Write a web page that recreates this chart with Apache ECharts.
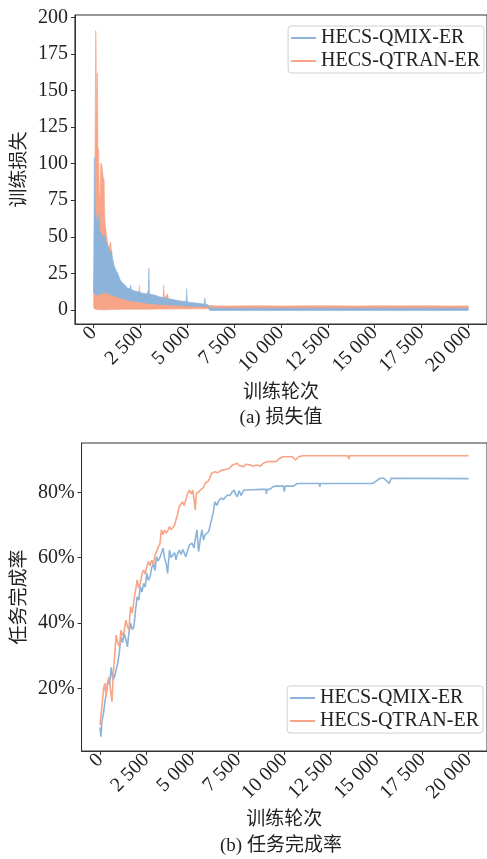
<!DOCTYPE html>
<html>
<head>
<meta charset="utf-8">
<script src="https://cdn.jsdelivr.net/npm/echarts@6/dist/echarts.min.js"></script>
<style>
  body { margin: 0; background: #fff; }
  #chart { width: 487px; height: 859px; }
</style>
</head>
<body>
<div id="chart"></div>
<script>
const FONT = "'Liberation Serif', 'Noto Sans CJK SC', serif";
const CJK = "'Noto Sans CJK SC', sans-serif";
const BLUE = "#8cb3d9";
const ORANGE = "#f8a486";

const seriesNames = ["HECS-QMIX-ER", "HECS-QTRAN-ER"];
const epochTicks = [0, 2500, 5000, 7500, 10000, 12500, 15000, 17500, 20000];
const lossTicks = [0, 25, 50, 75, 100, 125, 150, 175, 200];
const rateTicks = [20, 40, 60, 80];

// (a) loss - dense noisy curves read as lower / upper envelopes
const qtranLossEp = [0, 40, 80, 110, 130, 150, 180, 200, 230, 270, 300, 340, 380, 430, 470, 520, 560, 600, 650, 700, 760, 820, 880, 920, 960, 1000, 1060, 1120, 1160, 1200, 1300, 1400, 1500, 1650, 1800, 1950, 2100, 2300, 2420, 2450, 2480, 2650, 2800, 2900, 2950, 3200, 3500, 3700, 3740, 3780, 3950, 4000, 4500, 5000, 5500, 6000, 6500, 7000, 8000, 9000, 10000, 11000, 12000, 13000, 14000, 15000, 16000, 17000, 18000, 19000, 20000];
const qtranLossHigh = [17, 30, 120, 191, 185, 120, 162, 162, 110, 110, 80, 75, 100, 100, 95, 90, 89, 60, 55, 50, 45, 40, 46, 46, 32, 30, 25, 28, 28, 20, 17, 15, 14, 12, 13, 11, 12, 10, 11, 16.5, 10, 9, 8.5, 13, 8, 7, 7, 8, 17, 8, 11, 6, 5, 4.5, 3.5, 3.2, 2.8, 2.7, 2.8, 2.9, 2.7, 2.8, 2.9, 2.8, 2.7, 2.9, 2.8, 2.8, 2.9, 2.7, 2.8];
const qtranLossLow = [1.5, 0.8, 0.5, 0.5, 0.4, 0.4, 0.3, 0.3, 0.3, 0.2, 0.2, 0.2, 0.2, 0.1, 0.1, 0.1, 0.1, 0.1, 0.1, 0.2, 0.2, 0.2, 0.3, 0.3, 0.3, 0.3, 0.3, 0.3, 0.3, 0.3, 0.3, 0.4, 0.4, 0.4, 0.4, 0.4, 0.4, 0.5, 0.5, 0.5, 0.5, 0.5, 0.5, 0.5, 0.5, 0.5, 0.6, 0.6, 0.6, 0.6, 0.6, 0.6, 0.7, 0.7, 0.8, 0.8, 0.9, 0.9, 0.9, 0.9, 0.9, 0.9, 0.9, 0.9, 0.9, 0.9, 0.9, 0.9, 0.9, 0.9, 0.9];

const qmixLossEp = [0, 40, 70, 100, 150, 200, 260, 320, 400, 480, 560, 620, 700, 800, 880, 960, 1000, 1100, 1200, 1300, 1400, 1500, 1600, 1700, 1800, 1950, 1980, 2010, 2200, 2400, 2600, 2800, 2920, 2950, 2980, 3100, 3300, 3500, 3700, 3900, 4100, 4300, 4500, 4700, 4940, 4970, 5000, 5300, 5600, 5900, 5940, 5980, 6100, 6200, 7000, 10000, 15000, 20000];
const qmixLossHigh = [20, 104, 70, 65, 62, 58, 66, 55, 52, 50, 52, 48, 45, 43, 38, 41, 36, 30, 27, 25, 21, 19, 18, 16.5, 15, 14.5, 17, 14, 13, 12.5, 11.5, 11, 11, 28.5, 11, 10.5, 10, 9, 8.5, 8, 7.5, 7, 6.5, 6, 6, 14.5, 5.5, 5, 4.5, 4, 8.3, 4, 3.5, 1.3, 1.2, 1.2, 1.2, 1.2];
const qmixLossLow = [12, 11.5, 11, 11, 10.5, 10, 10, 10.5, 11, 11.5, 12, 12, 11.5, 11, 10.5, 10, 10, 9.5, 9, 8.7, 8.4, 7.9, 7.6, 7.2, 6.8, 6.3, 6.2, 6.1, 5.8, 5.6, 5.1, 4.7, 4.4, 4.3, 4.3, 4.1, 4, 3.8, 3.6, 3.5, 3.4, 3.2, 3.1, 2.9, 2.7, 2.7, 2.7, 2.6, 2.4, 2.3, 2.3, 2.3, 2.2, -0.4, -0.4, -0.4, -0.4, -0.4];

// (b) task completion rate (%)
const qmixRateEp = [0, 50, 100, 180, 260, 350, 440, 520, 610, 700, 790, 880, 960, 1050, 1140, 1230, 1310, 1400, 1490, 1570, 1660, 1750, 1840, 1930, 2020, 2100, 2190, 2280, 2370, 2450, 2540, 2630, 2720, 2810, 2900, 2980, 3070, 3150, 3250, 3340, 3420, 3500, 3600, 3670, 3770, 3860, 3950, 4050, 4120, 4200, 4300, 4400, 4500, 4650, 4750, 4850, 5000, 5100, 5180, 5260, 5350, 5450, 5530, 5620, 5700, 5800, 5900, 6050, 6150, 6230, 6350, 6450, 6580, 6700, 6800, 6930, 7050, 7150, 7280, 7350, 7450, 7550, 7650, 7800, 8000, 8300, 8700, 9000, 9030, 9060, 9210, 9380, 9560, 9950, 10000, 10050, 10500, 10700, 11900, 11930, 11960, 14800, 15000, 15200, 15400, 15550, 15700, 15790, 20000];
const qmixRate = [8, 5.2, 9.8, 12, 15.4, 19, 22.5, 21, 26.4, 22.5, 23.5, 24, 27.6, 31, 35.8, 34, 36.8, 35, 32.7, 37, 39.9, 38, 38.9, 44, 48, 47, 51.1, 49.5, 52.1, 51, 55.2, 53, 54.2, 57, 58.3, 56, 60.3, 59, 60, 61.5, 62.9, 60, 58, 55.2, 62.3, 60, 60.8, 61.5, 59.3, 61, 62.3, 61, 62.5, 60.3, 62, 63.9, 64.4, 63, 66, 68.5, 61.8, 66, 68.5, 65.4, 67, 67.5, 68, 71.5, 74, 77.1, 76, 77.5, 78.2, 77.8, 78.5, 79.2, 79, 80, 80.7, 79.5, 78.6, 80.5, 79, 80.7, 80.7, 80.8, 80.9, 80.9, 79.5, 80.9, 80.9, 81.7, 81.9, 81.9, 80.2, 81.9, 81.9, 82.7, 82.7, 81.7, 82.7, 82.7, 83.5, 84.3, 84.3, 83.5, 82.7, 84.3, 84.2];

const qtranRateEp = [0, 60, 130, 200, 260, 330, 400, 480, 560, 650, 720, 790, 880, 960, 1050, 1140, 1230, 1310, 1400, 1490, 1570, 1660, 1750, 1840, 1930, 2020, 2100, 2190, 2280, 2370, 2450, 2540, 2630, 2720, 2810, 2900, 2980, 3070, 3160, 3250, 3330, 3420, 3500, 3600, 3700, 3770, 3860, 3950, 4050, 4120, 4200, 4300, 4400, 4480, 4560, 4650, 4750, 4850, 4950, 5030, 5120, 5170, 5230, 5350, 5440, 5530, 5620, 5700, 5800, 5880, 5970, 6050, 6150, 6240, 6400, 6500, 6600, 6700, 6800, 6900, 7000, 7100, 7200, 7300, 7450, 7550, 7650, 7800, 7900, 8000, 8150, 8300, 8500, 8700, 8860, 8900, 9100, 9180, 9260, 9560, 9700, 9910, 10200, 10300, 10450, 10600, 10700, 10790, 11000, 13450, 13500, 13550, 20000];
const qtranRate = [8.8, 12, 16, 20, 21.5, 17.4, 21.5, 23.5, 20, 15.9, 24, 29.7, 36.3, 34, 32.7, 37.8, 36, 37.3, 40.9, 39, 37.8, 45, 43, 47, 50, 53.2, 50.6, 52, 55, 56.2, 55, 57.2, 58.8, 57.5, 59.3, 58, 60.5, 61, 63.3, 64, 68.5, 67, 68.5, 67.5, 68.5, 69.5, 68.5, 68.5, 70, 71.5, 73, 75.6, 75, 77.1, 76, 77.6, 79.5, 80.7, 79.5, 80.7, 77, 74.6, 79.7, 80, 80.7, 80.2, 81.5, 82.7, 82.2, 83.5, 84.5, 85.8, 85.3, 86.3, 86, 86.3, 86.8, 86.3, 87, 87.5, 87.3, 87.8, 88.4, 88, 88.9, 88.2, 88.4, 87.8, 88.6, 88.9, 88.4, 88, 88.4, 88, 88.9, 89.4, 89.4, 88.9, 89.4, 89.4, 90.2, 90.9, 90.9, 90.4, 90.9, 89.9, 90.4, 90.9, 91.2, 91.2, 90.2, 91.2, 91.2];

const pairs = (xs, ys) => xs.map((x, i) => [x, ys[i]]);
const thousands = (v) => String(v).replace(/\B(?=(\d{3})+(?!\d))/g, " ");

// filled band between low and high, drawn as one polygon through the axes
function band(name, eps, low, high, color) {
  return {
    name: name,
    type: "custom",
    coordinateSystem: "cartesian2d",
    xAxisIndex: 0,
    yAxisIndex: 0,
    clip: true,
    itemStyle: { color: color },
    data: eps.map((e, i) => [e, low[i], high[i]]),
    encode: { x: 0, y: [1, 2] },
    renderItem: function (params, api) {
      if (params.dataIndex !== 0) return null;
      const top = eps.map((e, i) => api.coord([e, high[i]]));
      const bottom = eps.map((e, i) => api.coord([e, low[i]])).reverse();
      return {
        type: "polygon",
        shape: { points: top.concat(bottom) },
        style: { fill: color, stroke: color, lineWidth: 0.6 }
      };
    }
  };
}

function xAxis(gridIndex) {
  return {
    type: "value",
    gridIndex: gridIndex,
    min: -1000,
    max: 21000,
    axisLine: { show: true, onZero: false, lineStyle: { color: "#333", width: 1 } },
    axisTick: { show: true, customValues: epochTicks, length: 4, lineStyle: { color: "#333" } },
    axisLabel: {
      customValues: epochTicks,
      rotate: 45,
      margin: 6,
      fontSize: 20,
      fontFamily: FONT,
      color: "#222",
      formatter: thousands
    },
    splitLine: { show: false },
    name: "训练轮次",
    nameLocation: "middle",
    nameGap: 57,
    nameTextStyle: { fontSize: 19, fontFamily: CJK, color: "#222" }
  };
}

function yAxis(gridIndex, min, max, ticks, fmt, name) {
  return {
    type: "value",
    gridIndex: gridIndex,
    min: min,
    max: max,
    axisLine: { show: true, onZero: false, lineStyle: { color: "#333", width: 1 } },
    axisTick: { show: true, customValues: ticks, length: 4, lineStyle: { color: "#333" } },
    axisLabel: {
      customValues: ticks,
      margin: 7,
      fontSize: 20,
      fontFamily: FONT,
      color: "#222",
      formatter: fmt
    },
    splitLine: { show: false },
    name: name,
    nameLocation: "middle",
    nameRotate: 90,
    nameGap: 44,
    nameTextStyle: { fontSize: 19, fontFamily: CJK, color: "#222" }
  };
}

function legend(pos) {
  return Object.assign({
    data: seriesNames,
    orient: "vertical",
    icon: "rect",
    itemWidth: 25,
    itemHeight: 2,
    itemGap: 3,
    padding: [2, 4, 2, 3],
    borderColor: "#d0d0d0",
    borderWidth: 1,
    borderRadius: 3,
    backgroundColor: "rgba(255,255,255,0.85)",
    textStyle: { fontSize: 20, fontFamily: FONT, color: "#222" }
  }, pos);
}

const chart = echarts.init(document.getElementById("chart"));

chart.setOption({
  animation: false,
  backgroundColor: "#fff",
  grid: [
    { left: 73, right: -4, top: 15, height: 309, show: true, borderColor: "#333", borderWidth: 1 },
    { left: 73, right: -4, top: 443, height: 308, show: true, borderColor: "#333", borderWidth: 1 }
  ],
  xAxis: [xAxis(0), xAxis(1)],
  yAxis: [
    yAxis(0, -9.6, 201.6, lossTicks, (v) => String(v), "训练损失"),
    yAxis(1, 0.8, 95.1, rateTicks, (v) => v + "%", "任务完成率")
  ],
  legend: [
    legend({ right: 3, top: 26 }),
    legend({ right: 4, top: 686 })
  ],
  series: [
    band(seriesNames[1], qtranLossEp, qtranLossLow, qtranLossHigh, ORANGE),
    band(seriesNames[0], qmixLossEp, qmixLossLow, qmixLossHigh, BLUE),
    {
      name: seriesNames[0],
      type: "line",
      xAxisIndex: 1,
      yAxisIndex: 1,
      symbol: "none",
      color: BLUE,
      lineStyle: { width: 1.6, color: BLUE },
      data: pairs(qmixRateEp, qmixRate)
    },
    {
      name: seriesNames[1],
      type: "line",
      xAxisIndex: 1,
      yAxisIndex: 1,
      symbol: "none",
      color: ORANGE,
      lineStyle: { width: 1.6, color: ORANGE },
      data: pairs(qtranRateEp, qtranRate)
    }
  ],
  graphic: [
    {
      type: "text",
      x: 281,
      y: 418,
      style: { text: "(a) 损失值", font: "19px " + FONT, fill: "#222", align: "center", verticalAlign: "middle" }
    },
    {
      type: "text",
      x: 281,
      y: 846,
      style: { text: "(b) 任务完成率", font: "19px " + FONT, fill: "#222", align: "center", verticalAlign: "middle" }
    }
  ]
});
</script>
</body>
</html>
